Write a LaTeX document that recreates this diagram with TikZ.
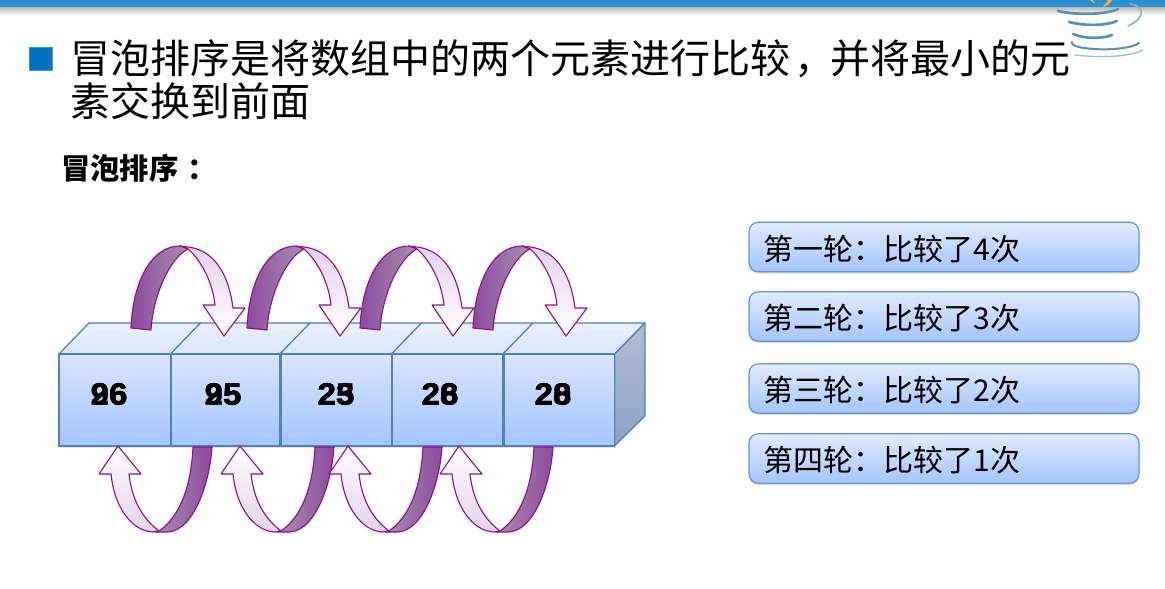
\documentclass[tikz,border=0pt]{standalone}
\usepackage{fontspec}
\setmainfont{Noto Sans CJK SC}
\newfontfamily\numfont{Liberation Sans}[BoldFeatures={FakeBold=1.2,FakeStretch=1.08}]
\usetikzlibrary{shadows}
\definecolor{barblue}{HTML}{2E8FD3}
\definecolor{bulletblue}{HTML}{0070C0}
\definecolor{edgeblue}{HTML}{4F81BD}
\definecolor{faceTop}{HTML}{DAE6FD}
\definecolor{faceBot}{HTML}{A3C4FB}
\definecolor{lidTop}{HTML}{E8EFFE}
\definecolor{lidBot}{HTML}{DCE7FD}
\definecolor{sideTop}{HTML}{B2BCCD}
\definecolor{sideBot}{HTML}{8AA3CB}
\definecolor{arcEdge}{HTML}{8B1585}
\definecolor{arcDark}{HTML}{8D4A9E}
\definecolor{arcGrey}{HTML}{A690AE}
\definecolor{arcPale}{HTML}{E2D3EA}
\definecolor{cupBlue}{HTML}{5F8FB0}
\definecolor{cupFlame}{HTML}{F0B040}
\tikzset{
  px/.style={x=.75pt,y=-.75pt},
  cell/.style={draw=edgeblue,line width=1.3pt,top color=faceTop,bottom color=faceBot,
    minimum width=111.5*.75pt,minimum height=92*.75pt,inner sep=0pt,
    drop shadow={opacity=.22,shadow xshift=.8pt,shadow yshift=-1.2pt}},
  divider/.style={draw=edgeblue,line width=1.3pt},
  lid/.style={draw=edgeblue,line width=.9pt,top color=lidTop,bottom color=lidBot},
  sideface/.style={draw=edgeblue,line width=.9pt,top color=sideTop,bottom color=sideBot},
  num/.style={font=\numfont\fontsize{23}{23}\selectfont\bfseries,inner sep=0pt,text=black},
  info/.style={draw=edgeblue!85,line width=.9pt,rounded corners=7pt,top color=faceTop!80!white,bottom color=faceBot,
    minimum width=390*.75pt,minimum height=49.5*.75pt,
    drop shadow={opacity=.28,shadow xshift=0pt,shadow yshift=-1.4pt}},
  infotext/.style={font=\fontsize{22.5}{24}\selectfont,inner sep=0pt,text=black},
  arcd/.style={draw=arcEdge,line width=.85pt,left color=arcDark,right color=arcGrey,line join=round},
  arcl/.style={draw=arcEdge,line width=.85pt,top color=arcPale,bottom color=white,shading angle=0,line join=round},
  cup/.style={draw=cupBlue,line cap=round,line width=1.6pt},
}
\newcommand{\archover}[1]{%
  \begin{scope}[shift={(#1,0)}]
    \path[arcl] (180,246) -- (188,247) .. controls (212,250) and (228,270) .. (233,308)
      -- (245,308) -- (224,336) -- (203,305) -- (215,305)
      .. controls (213,285) and (203,262) .. (188,249) -- cycle;
    \path[arcd] (131,328) .. controls (133,280) and (152,246) .. (180,246) -- (188,249)
      .. controls (170,258) and (153,295) .. (151,330) -- cycle;
  \end{scope}}
\newcommand{\arcunder}[1]{%
  \begin{scope}[shift={(#1,0)}]
    \path[arcl,top color=white,bottom color=arcPale] (159,531) .. controls (142,518) and (132,500) .. (129,474)
      -- (141,474) -- (118,446) -- (99,474) -- (111,474)
      .. controls (114,505) and (130,530) .. (152,532) -- cycle;
    \path[arcd,left color=arcGrey,right color=arcDark] (193,447) -- (212,447)
      .. controls (210,480) and (195,530) .. (168,532) -- (155,532) -- (159,531)
      .. controls (178,518) and (191,490) .. (193,447) -- cycle;
  \end{scope}}
\begin{document}
\begin{tikzpicture}[px]
\useasboundingbox (0,0) rectangle (1165,589);
% header band
\fill[white] (0,0) rectangle (1165,589);
\shade[top color=black!28,bottom color=white] (0,7) rectangle (1165,15);
\fill[barblue] (0,0) rectangle (1165,7);
% cup logo
\draw[cup,line width=2pt] (1058,11) .. controls (1075,15) and (1105,15) .. (1118,9);
\draw[cup,line width=1.2pt,draw=cupBlue!70] (1130,4) .. controls (1145,6) and (1146,18) .. (1128,26);
\draw[cup,line width=2pt] (1069,22) .. controls (1085,26) and (1105,26) .. (1117,21);
\draw[cup,line width=2pt] (1073,34) .. controls (1085,39) and (1102,39) .. (1112,35);
\draw[cup,line width=1.5pt] (1072,42) .. controls (1068,50) and (1125,53) .. (1139,43);
\draw[cup,line width=1pt,draw=cupBlue!60] (1075,55) .. controls (1100,58) and (1130,57) .. (1143,50);
\fill[cupFlame] (1103,7) .. controls (1104,4) and (1107,3) .. (1108,0) -- (1112,0) .. controls (1111,4) and (1106,6) .. (1103,7) -- cycle;
\fill[cupFlame] (1095,4) .. controls (1093,3) and (1091,1) .. (1090,0) -- (1093,0) -- cycle;
% title
\node[fill=bulletblue,draw=bulletblue!75,line width=.5pt,minimum width=23*.75pt,minimum height=23*.75pt,inner sep=0pt] (bullet) at (40.5,58.5) {};
\node[anchor=north west,inner sep=0pt,align=left,font=\fontsize{30}{32.25}\selectfont] (title) at (70,39)
  {冒泡排序是将数组中的两个元素进行比较\kern3pt，\kern-3pt 并将最小的元\\素交换到前面};
\node[anchor=west,inner sep=0pt,font=\fontsize{22}{24}\selectfont\bfseries] (subtitle) at (61,168) {冒泡排序\kern7pt：};
% cube
\path[sideface] (614.5,354) -- (645,323) -- (645,416) -- (614.5,446) -- cycle;
\foreach \xa/\xb in {59/170.5,170.5/280,280/391.5,391.5/503,503/614.5}
  \path[lid] (\xa,354) -- (\xa+30,323) -- (\xb+30,323) -- (\xb,354) -- cycle;
\node[cell,minimum width=111.5*.75pt] (c1) at (114.75,400) {};
\node[cell,minimum width=109.5*.75pt] (c2) at (225.25,400) {};
\node[cell,minimum width=111.5*.75pt] (c3) at (335.75,400) {};
\node[cell,minimum width=111.5*.75pt] (c4) at (447.25,400) {};
\node[cell,minimum width=111.5*.75pt] (c5) at (558.75,400) {};
\foreach \a/\b in {c1/c2,c2/c3,c3/c4,c4/c5}
  \draw[divider] (\a.north east) -- (\a.south east);
% overprinted numbers
\node[num] (n1a) at (109,394) {96};
\node[num] (n1b) at (109,394) {26};
\node[num] (n2a) at (223,394) {95};
\node[num] (n2b) at (223,394) {25};
\node[num] (n3a) at (336,394) {25};
\node[num] (n3b) at (336,394) {23};
\node[num] (n4a) at (440,394) {26};
\node[num] (n4b) at (440,394) {28};
\node[num] (n5a) at (553,394) {20};
\node[num] (n5b) at (553,394) {28};
% arcs
\archover{0}
\archover{116}
\archover{229}
\archover{342}
\arcunder{0}
\arcunder{122}
\arcunder{230}
\arcunder{341}
% info boxes
\node[info] (b1) at (944,247) {};
\node[info] (b2) at (944,316.5) {};
\node[info] (b3) at (944,388.5) {};
\node[info] (b4) at (944,458.5) {};
\node[infotext,anchor=west] (t1) at (763.5,249) {第一轮：比较了4次};
\node[infotext,anchor=west] (t2) at (763.5,318) {第二轮：比较了3次};
\node[infotext,anchor=west] (t3) at (763.5,390) {第三轮：比较了2次};
\node[infotext,anchor=west] (t4) at (763.5,460) {第四轮：比较了1次};
\end{tikzpicture}
\end{document}
